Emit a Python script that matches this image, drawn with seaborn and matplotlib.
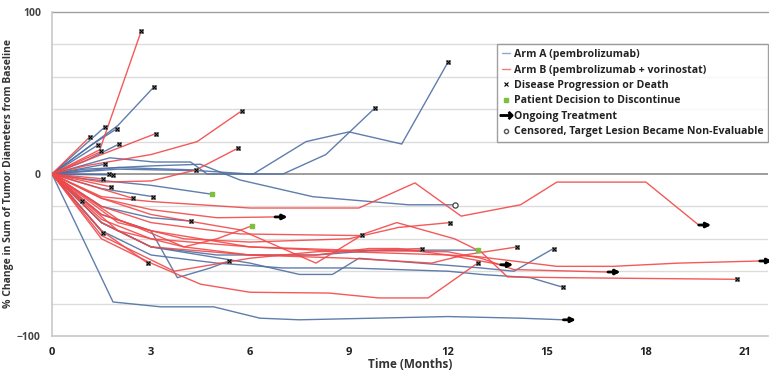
import numpy as np
import pandas as pd
import seaborn as sns
import matplotlib
matplotlib.use("Agg")
import matplotlib.pyplot as plt
from matplotlib.lines import Line2D
import matplotlib.transforms as mtransforms

# ---------------- data ----------------
arm_a_months = [
    [0, 1.0, 2.0, 3.1],
    [0, 1.6],
    [0, 1.2, 1.97],
    [0, 1.4],
    [0, 1.0, 2.03],
    [0, 1.6],
    [0, 1.75, 3.1, 4.2, 4.7, 6.1, 7.7, 9.0, 10.6, 12.0],
    [0, 2.0, 4.5, 6.0, 7.0, 8.3, 9.8],
    [0, 1.73],
    [0, 1.85],
    [0, 1.0, 3.0, 4.5, 5.7, 7.9, 10.8, 12.2],
    [0, 2.0, 4.36],
    [0, 0.9],
    [0, 1.5, 3.06],
    [0, 1.5, 3.0, 3.8, 4.8, 5.36],
    [0, 1.55],
    [0, 1.0, 3.0, 4.85],
    [0, 1.5, 3.0, 4.2],
    [0, 1.85, 3.3, 4.9, 6.3, 7.5, 12.0, 14.2, 15.5],
    [0, 1.5, 3.0, 5.0, 8.0, 9.6, 11.15, 12.9],
    [0, 1.5, 3.0, 5.0, 7.0, 9.0, 12.0, 13.0, 14.5, 15.5],
    [0, 1.5, 3.0, 6.0, 7.5, 8.5, 9.3, 13.0, 14.0, 15.2],
]
arm_a_change = [
    [0, 15, 30, 54],
    [0, 29],
    [0, 18, 28],
    [0, 18],
    [0, 8, 18.5],
    [0, 6],
    [0, 10, 7.4, 7.4, 0, 0, 20, 26, 18.5, 69],
    [0, 3, 2, 0, 0, 12, 41],
    [0, 0],
    [0, -0.5],
    [0, 3, 5, 6, -3.7, -14, -19, -19],
    [0, 4, 2.5],
    [0, -16.5],
    [0, -9, -14],
    [0, -25, -35, -64, -58, -53.7],
    [0, -36.6],
    [0, -3, -7, -12.5],
    [0, -20, -27, -29],
    [0, -79, -82, -82, -89, -90, -88, -89, -90],
    [0, -30, -45, -50, -50, -47.5, -47, -47],
    [0, -35, -50, -55, -58, -58, -60, -62, -64, -70],
    [0, -30, -45, -55, -62, -62, -52, -58, -60, -46],
]
arm_a_end = ["x", "x", "x", "x", "x", "x", "x", "x", "x", "x", "o", "x",
             "x", "x", "x", "x", "g", "x", "arrow", "g", "x", "x"]

arm_b_months = [
    [0, 1.15],
    [0, 1.45, 2.7],
    [0, 1.5, 3.15],
    [0, 1.0, 3.0, 4.4, 5.75],
    [0, 1.5, 3.0, 4.36, 5.64],
    [0, 1.5],
    [0, 1.55],
    [0, 1.8],
    [0, 2.45],
    [0, 1.5, 3.0, 6.0, 9.3, 11.0, 12.4, 14.2, 15.3, 18.0, 19.6],
    [0, 1.5, 3.0, 5.0, 6.76],
    [0, 2.0, 4.0, 5.0, 6.06],
    [0, 1.5, 2.9],
    [0, 1.5, 3.0, 5.7, 8.0, 9.4],
    [0, 1.5, 3.0, 5.7, 9.3, 10.45, 12.2, 13.0, 13.8, 15.5, 20.75],
    [0, 2.0, 4.0, 6.0, 9.0, 10.5, 12.06],
    [0, 1.5, 3.0, 6.0, 9.0, 12.0, 12.9, 15.3, 17.0, 19.0, 21.45],
    [0, 1.5, 3.0, 6.0, 9.0, 12.0, 13.0, 14.0, 16.85],
    [0, 1.5, 3.0, 6.0, 9.0, 11.5, 12.5, 14.1],
    [0, 1.5, 3.0, 4.5, 6.0, 8.4, 9.9, 11.4, 12.9],
    [0, 2.0, 4.0, 6.0, 8.0, 9.6, 10.5, 12.0, 13.6],
    [0, 1.5, 3.7, 6.0, 8.0, 11.2],
]
arm_b_change = [
    [0, 23],
    [0, 15, 88],
    [0, 12, 25],
    [0, 5, 12, 20, 39],
    [0, -5, -4.3, 2.5, 16],
    [0, 14],
    [0, -3],
    [0, -8],
    [0, -15],
    [0, -14, -17, -21, -21, -5.5, -26, -19, -5, -5, -31.5],
    [0, -15, -22, -27, -26.5],
    [0, -28, -45, -40, -32],
    [0, -35, -55],
    [0, -15, -25, -34.5, -55, -37.7],
    [0, -20, -30, -37, -38, -30, -40, -48, -63.5, -64, -65],
    [0, -30, -40, -42, -40, -33, -30],
    [0, -25, -35, -45, -48, -50, -51, -57, -57, -55, -53.7],
    [0, -28, -40, -45, -47, -48, -52, -59, -60.5],
    [0, -30, -45, -50, -52, -55, -50, -45],
    [0, -40, -55, -68, -73, -73.5, -76.5, -76.5, -55],
    [0, -35, -45, -50, -50, -46, -46, -50, -56],
    [0, -38, -60, -52, -48, -46],
]
arm_b_end = ["x", "x", "x", "x", "x", "x", "x", "x", "x", "arrow", "arrow",
             "g", "x", "x", "x", "x", "arrow", "arrow", "x", "x", "arrow", "x"]

x_ticks = [0, 3, 6, 9, 12, 15, 18, 21]
y_ticks = [-100, 0, 100]
arm_labels = ["Arm A (pembrolizumab)", "Arm B (pembrolizumab + vorinostat)"]

# ---------------- build long table ----------------
rows = []
ends = []
pid = 0
for arm, months, changes, endt in [(arm_labels[0], arm_a_months, arm_a_change, arm_a_end),
                                   (arm_labels[1], arm_b_months, arm_b_change, arm_b_end)]:
    for t, v, e in zip(months, changes, endt):
        pid += 1
        for ti, vi in zip(t, v):
            rows.append({"patient": pid, "arm": arm, "month": ti, "change": vi})
        ends.append({"patient": pid, "arm": arm, "month": t[-1], "change": v[-1], "end": e})
df = pd.DataFrame(rows)
end_df = pd.DataFrame(ends)

BLUE = "#4F6FA3"
RED = "#F24848"
GREEN = "#7DBF3E"

sns.set_theme(style="white")
plt.rcParams["font.family"] = ["Open Sans", "DejaVu Sans"]

fig = plt.figure(figsize=(7.69, 3.74), dpi=100)
ax = fig.add_axes([52 / 769, 38 / 374, 716 / 769, 324 / 374])

sns.lineplot(data=df, x="month", y="change", hue="arm", units="patient",
             estimator=None, sort=False, palette={arm_labels[0]: BLUE, arm_labels[1]: RED},
             lw=1.0, alpha=0.9, legend=False, ax=ax, zorder=3)

# end-point markers
xe = end_df[end_df["end"] == "x"]
ax.scatter(xe["month"], xe["change"], marker="s", s=9, facecolor="#BBBBBB",
           edgecolor="#555555", linewidths=0.4, zorder=5)
ax.scatter(xe["month"], xe["change"], marker="x", s=7, color="black", linewidths=0.8, zorder=6)
ge = end_df[end_df["end"] == "g"]
ax.scatter(ge["month"], ge["change"], marker="s", s=12, color=GREEN, zorder=6)
oe = end_df[end_df["end"] == "o"]
ax.scatter(oe["month"], oe["change"], marker="o", s=14, facecolor="white",
           edgecolor="#444444", linewidths=0.9, zorder=6)
ae = end_df[end_df["end"] == "arrow"]
shift = mtransforms.offset_copy(ax.transData, fig=fig, x=9, y=0, units="points")
for _, r in ae.iterrows():
    ax.annotate("", xy=(r["month"], r["change"]), xycoords=shift,
                xytext=(r["month"], r["change"]), textcoords="data",
                arrowprops=dict(arrowstyle="-|>", lw=2.0, color="black",
                                mutation_scale=7, shrinkA=0, shrinkB=0),
                zorder=7)

# axes styling
ax.set_xlim(0, 21.7)
ax.set_ylim(-100, 100)
ax.set_xticks(x_ticks)
ax.set_yticks(y_ticks)
ax.grid(False)
for yv in np.arange(-80, 100, 20):
    if yv != 0:
        ax.axhline(yv, color="#DCDCDC", lw=1.0, zorder=0)
ax.axhline(0, color="#8C8C8C", lw=1.2, zorder=1)
ax.axhline(100, color="#A0A0A0", lw=1.0, zorder=1, clip_on=False)
for s in ["top", "right"]:
    ax.spines[s].set_visible(False)
ax.spines["left"].set_color("#C8C8C8")
ax.spines["left"].set_linewidth(1.2)
ax.spines["bottom"].set_color("#C8C8C8")
ax.spines["bottom"].set_linewidth(1.2)
ax.tick_params(axis="x", which="major", length=3, color="#C8C8C8", labelsize=8,
               labelcolor="#222222", pad=5)
ax.tick_params(axis="y", which="major", length=4, color="#C8C8C8", labelsize=7.5,
               labelcolor="#444444", pad=4)
for lab in ax.get_xticklabels() + ax.get_yticklabels():
    lab.set_fontweight("bold")
ax.set_xlabel("Time (Months)", fontsize=8.5, fontweight="bold", color="#333333", labelpad=0)
ax.set_ylabel("% Change in Sum of Tumor Diameters from Baseline", fontsize=7.5,
              fontweight="bold", color="#333333", labelpad=2)

handles = [
    Line2D([], [], color="#8FA9CF", lw=1.0),
    Line2D([], [], color=RED, lw=1.0, alpha=0.7),
    Line2D([], [], ls="none", marker="x", markersize=3, color="black", mew=0.8),
    Line2D([], [], ls="none", marker="s", markersize=3, color=GREEN),
    Line2D([], [], ls="none", marker=r"$\rightarrow$", markersize=9, color="black"),
    Line2D([], [], ls="none", marker="o", markersize=3, mfc="white", mec="#555555"),
]
labels = arm_labels + ["Disease Progression or Death", "Patient Decision to Discontinue",
                       "Ongoing Treatment", "Censored, Target Lesion Became Non-Evaluable"]
leg = ax.legend(handles, labels, loc="upper right", bbox_to_anchor=(1.0, 0.90),
                borderaxespad=0, fontsize=7.6, frameon=True, fancybox=False,
                handlelength=0.8, handletextpad=0.3, labelspacing=0.42,
                borderpad=0.45)
leg.get_frame().set_edgecolor("#888888")
leg.get_frame().set_linewidth(1.0)
for t in leg.get_texts():
    t.set_fontweight("bold")
    t.set_color("#222222")

fig.savefig("out.png", dpi=100)
